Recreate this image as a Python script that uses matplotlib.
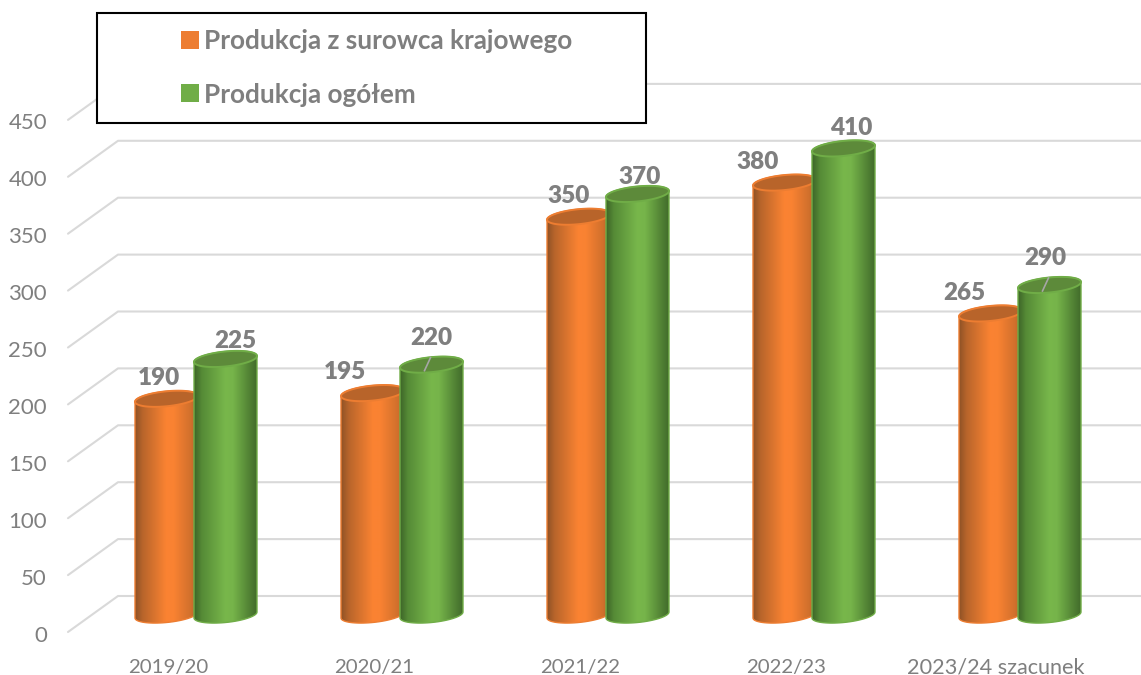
import numpy as np
import matplotlib
matplotlib.use("Agg")
import matplotlib.pyplot as plt
from matplotlib.colors import LinearSegmentedColormap
from matplotlib.patches import Patch, PathPatch, Polygon, Rectangle
from matplotlib.path import Path

categories = ["2019/20", "2020/21", "2021/22", "2022/23", "2023/24 szacunek"]
krajowy = [190, 195, 350, 380, 265]
ogolem = [225, 220, 370, 410, 290]
y_ticks = [0, 50, 100, 150, 200, 250, 300, 350, 400, 450]

W, H = 1141, 675
X0, X_STEP = 196, 206      # pixel of first category, pixels per category
Y0, Y_STEP = 615, 1.138    # pixel of value 0, pixels per unit

plt.rcParams["font.family"] = ["Lato", "DejaVu Sans"]
GREY = "#7f7f7f"

fig = plt.figure(figsize=(W / 100, H / 100), dpi=100)
ax = fig.add_axes([0, 0, 1, 1])
ax.axis("off")


def dx(p):
    return p / X_STEP


def dy(p):
    return p / Y_STEP


def set_limits():
    ax.set_xlim(-X0 / X_STEP, (W - X0) / X_STEP)
    ax.set_ylim((Y0 - H) / Y_STEP, Y0 / Y_STEP)


set_limits()

# floor and back wall of the 3d chart
for v in y_ticks:
    ax.plot([dx(68 - X0), dx(118 - X0), dx(W + 5 - X0)],
            [v + dy(-17), v + dy(19), v + dy(19)],
            color="#d9d9d9", lw=1.5, zorder=1, solid_capstyle="round")
    ax.text(dx(47 - X0), v + dy(-20.5), str(v), ha="right", va="center",
            color=GREY, fontsize=16)

for i, c in enumerate(categories):
    ax.text(i + dx(-24 if i == 4 else -28), dy(-52), c, ha="center", va="center",
            color=GREY, fontsize=15.6 if i == 4 else 14.7)

orange_cmap = LinearSegmentedColormap.from_list(
    "o", [(0, "#8f5226"), (0.12, "#b8652b"), (0.5, "#fb8332"), (0.62, "#f98232"),
          (0.9, "#cf6f2c"), (1, "#b05f29")])
green_cmap = LinearSegmentedColormap.from_list(
    "g", [(0, "#3d6528"), (0.12, "#558a36"), (0.5, "#78b74b"), (0.62, "#76b44a"),
          (0.9, "#4f7f33"), (1, "#426c2b")])

A = dx(31.5)
B = dy(7.5)
TILT = dy(3)


def rim(cx, base, t):
    x = cx + A * np.cos(t)
    y = base + B * np.sin(t) + TILT * np.cos(t)
    return x, y


def cylinder(cx, v, cmap, edge, top, z):
    t = np.linspace(np.pi, 2 * np.pi, 40)
    xb, yb = rim(cx, 0, t)
    xt, yt = rim(cx, v, t - np.pi)
    verts = np.column_stack([np.r_[xb, xt], np.r_[yb, yt]])
    body = PathPatch(Path(np.vstack([verts, verts[0]]), closed=True), fc="none",
                     ec=edge, lw=1.0, zorder=z + 0.2)
    ax.add_patch(body)
    im = ax.imshow(np.linspace(0, 1, 128).reshape(1, -1), cmap=cmap, vmin=0, vmax=1,
                   extent=(cx - A, cx + A, -20, v + 20), aspect="auto", zorder=z,
                   interpolation="bilinear")
    im.set_clip_path(body)
    t = np.linspace(0, 2 * np.pi, 80)
    xc, yc = rim(cx, v, t)
    ax.add_patch(Polygon(np.column_stack([xc, yc]), closed=True, fc=top, ec=edge,
                         lw=1.4, zorder=z + 0.3))


for i in range(len(categories)):
    cylinder(i - dx(29.5), krajowy[i], orange_cmap, "#ed7d31", "#b8642a", 3 + i)
    cylinder(i + dx(29.5), ogolem[i], green_cmap, "#70ad47", "#5d8a3a", 3.5 + i)
set_limits()

# data labels sit where they were dragged in the original, so nudges in pixels
nudge_k = [(-8, 21), (-28, 21), (-9.5, 21), (-27, 21), (-26, 20)]
nudge_o = [(10, 18), (0, 27), (2.5, 17), (7.5, 20), (-4, 27)]
for i in range(len(categories)):
    for v, off, (nx, ny) in ((krajowy[i], -29.5, nudge_k[i]), (ogolem[i], 29.5, nudge_o[i])):
        ax.text(i + dx(off + nx), v + dy(ny), str(v), ha="center", va="center",
                color=GREY, fontsize=17.5, fontweight="heavy", zorder=20)

# leader lines of the two labels moved away from their bars
for i, v in ((1, ogolem[1]), (4, ogolem[4])):
    ax.plot([i + dx(29.5 - 1), i + dx(29.5 - 7)], [v + dy(7), v + dy(-6)],
            color="#a6a6a6", lw=1.2, zorder=21)

# legend box
ax.add_patch(Rectangle((dx(97 - X0), dy(Y0 - 123)), dx(549), dy(110), fc="white",
                       ec="black", lw=1.5, zorder=30))
handles = [Patch(fc="#ed7d31", ec="none", label="Produkcja z surowca krajowego"),
           Patch(fc="#70ad47", ec="none", label="Produkcja ogółem")]
leg = ax.legend(handles=handles, loc="upper left", frameon=False,
                bbox_to_anchor=(173 / W, 1 - 21 / H), borderaxespad=0, borderpad=0.3,
                handlelength=0.68, handleheight=0.68, handletextpad=0.2,
                labelspacing=1.14, prop={"size": 18.8, "weight": "bold"},
                labelcolor=GREY)
leg.set_zorder(31)

fig.savefig("out.png", dpi=100)
